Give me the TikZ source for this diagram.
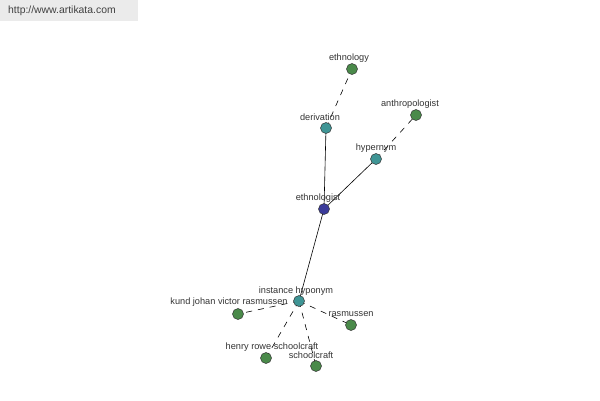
\documentclass[tikz,border=0pt]{standalone}
\usepackage{fontspec}
\setmainfont{Liberation Sans}
\definecolor{hubcol}{HTML}{3B3B9A}
\definecolor{midcol}{HTML}{3F9595}
\definecolor{leafcol}{HTML}{4A8A4A}
\begin{document}
\begin{tikzpicture}[x=1pt,y=-1pt,
  vtx/.style={circle,draw=black!80,line width=0.5pt,minimum size=11pt,inner sep=0pt},
  hub/.style={vtx,fill=hubcol},
  mid/.style={vtx,fill=midcol},
  leaf/.style={vtx,fill=leafcol},
  lbl/.style={font=\fontsize{9.2}{11}\selectfont,text=black!80,inner sep=0pt},
  solidedge/.style={draw=black,line width=0.6pt},
  dashedge/.style={draw=black,line width=0.6pt,dash pattern=on 6pt off 6pt}]
\useasboundingbox (0,0) rectangle (600,400);
\fill[black!8] (0,0) rectangle (138,21);
\node[font=\fontsize{10.4}{12}\selectfont,text=black!75,anchor=west,inner sep=0pt] (url) at (8,11) {http://www.artikata.com};
% vertices
\coordinate (cEthnologist) at (324,209);
\coordinate (cDerivation) at (326,128);
\coordinate (cEthnology) at (352,69);
\coordinate (cHypernym) at (376,159);
\coordinate (cAnthro) at (416,115);
\coordinate (cInst) at (299,301);
\coordinate (cKund) at (238,314);
\coordinate (cRas) at (351,325);
\coordinate (cHenry) at (266,358);
\coordinate (cSchool) at (316,366);
% edges
\draw[solidedge] (cEthnologist) -- (cDerivation);
\draw[solidedge] (cEthnologist) -- (cHypernym);
\draw[solidedge] (cEthnologist) -- (cInst);
\draw[dashedge] (cDerivation) -- (cEthnology);
\draw[dashedge] (cHypernym) -- (cAnthro);
\draw[dashedge] (cInst) -- (cKund);
\draw[dashedge] (cInst) -- (cRas);
\draw[dashedge] (cInst) -- (cHenry);
\draw[dashedge] (cInst) -- (cSchool);
% nodes
\node[hub] (ethnologist) at (cEthnologist) {};
\node[mid] (derivation) at (cDerivation) {};
\node[mid] (hypernym) at (cHypernym) {};
\node[mid] (inst) at (cInst) {};
\node[leaf] (ethnology) at (cEthnology) {};
\node[leaf] (anthro) at (cAnthro) {};
\node[leaf] (kund) at (cKund) {};
\node[leaf] (ras) at (cRas) {};
\node[leaf] (henry) at (cHenry) {};
\node[leaf] (school) at (cSchool) {};
% labels
\node[lbl] (lEthnology) at (349,58) {ethnology};
\node[lbl] (lDerivation) at (320,117) {derivation};
\node[lbl] (lAnthro) at (410,104) {anthropologist};
\node[lbl] (lHypernym) at (376,148) {hypernym};
\node[lbl] (lEthnologist) at (318,198) {ethnologist};
\node[lbl] (lInst) at (296,291) {instance hyponym};
\node[lbl] (lKund) at (229,302) {kund johan victor rasmussen};
\node[lbl] (lRas) at (351,314) {rasmussen};
\node[lbl] (lHenry) at (272,347) {henry rowe schoolcraft};
\node[lbl] (lSchool) at (311,355) {schoolcraft};
\end{tikzpicture}
\end{document}
